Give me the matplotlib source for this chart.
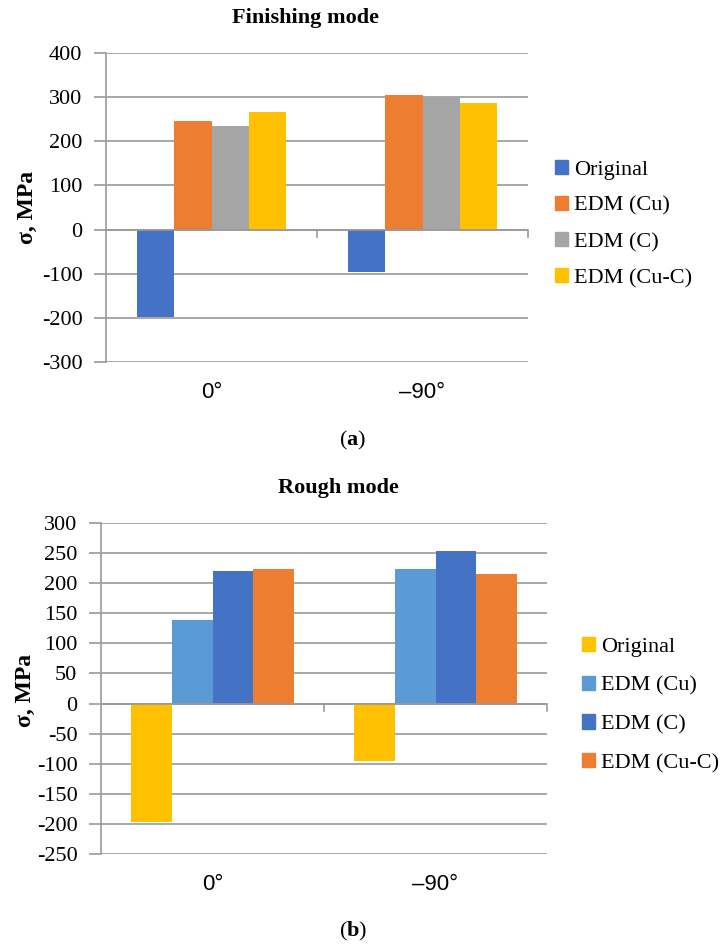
import matplotlib
matplotlib.use("Agg")
from matplotlib import pyplot as plt
from matplotlib.patches import Patch
import numpy as np

plt.rcParams['font.family'] = ['Liberation Serif', 'DejaVu Serif']
plt.rcParams['mathtext.fontset'] = 'custom'
plt.rcParams['mathtext.rm'] = 'Liberation Serif'
plt.rcParams['mathtext.bf'] = 'Liberation Serif:bold'

categories = ['0°', '–90°']

# finishing mode (a)
fin_labels = ['Original', 'EDM (Cu)', 'EDM (C)', 'EDM (Cu-C)']
fin_values = [
    [-197, -97],   # Original
    [245, 305],    # EDM (Cu)
    [235, 300],    # EDM (C)
    [267, 287],    # EDM (Cu-C)
]
fin_colors = ['#4472C4', '#ED7D31', '#A5A5A5', '#FFC000']
fin_ticks = [-300, -200, -100, 0, 100, 200, 300, 400]

# rough mode (b)
rough_labels = ['Original', 'EDM (Cu)', 'EDM (C)', 'EDM (Cu-C)']
rough_values = [
    [-197, -95],   # Original
    [138, 223],    # EDM (Cu)
    [220, 254],    # EDM (C)
    [223, 216],    # EDM (Cu-C)
]
rough_colors = ['#FFC000', '#5B9BD5', '#4472C4', '#ED7D31']
rough_ticks = [-250, -200, -150, -100, -50, 0, 50, 100, 150, 200, 250, 300]

W, H = 724, 946
fig = plt.figure(figsize=(W / 100, H / 100), dpi=100)
GRID = '#9a9a9a'


def px_axes(x0, y0, x1, y1):
    return fig.add_axes([x0 / W, 1 - y1 / H, (x1 - x0) / W, (y1 - y0) / H])


def draw_panel(ax, labels, values, colors, ticks, gap, leg_x, leg_y, leg_gap):
    n = len(labels)
    bw = 1 / (n + gap)
    x = np.arange(len(categories)) + 0.5
    for i in range(n):
        off = (i - (n - 1) / 2) * bw
        ax.bar(x + off, values[i], width=bw, color=colors[i], zorder=3)
    ax.set_xlim(0, len(categories))
    ax.set_ylim(ticks[0], ticks[-1])
    ax.set_yticks(ticks)
    ax.set_yticklabels([str(t) for t in ticks], fontsize=16)
    ax.yaxis.grid(True, color=GRID, lw=1.2, zorder=0)
    for s in ['top', 'right', 'bottom']:
        ax.spines[s].set_visible(False)
    ax.spines['left'].set_color(GRID)
    ax.spines['left'].set_linewidth(1.2)
    ax.tick_params(axis='y', length=9, width=1.2, color=GRID, pad=8)
    ax.set_xticks([])
    # zero line with category separators
    ax.axhline(0, color=GRID, lw=1.2, zorder=4)
    rng = ticks[-1] - ticks[0]
    for k in range(1, len(categories) + 1):
        ax.plot([k, k], [0, -rng * 0.024], color=GRID, lw=1.2, zorder=4,
                clip_on=False)
    for xi, c in zip(x, categories):
        ax.annotate(c, (xi, 0), xycoords=('data', 'axes fraction'),
                    xytext=(0, -30), textcoords='offset pixels',
                    ha='center', va='center', fontsize=16,
                    family=['Liberation Sans', 'DejaVu Sans'])
    handles = [Patch(color=c) for c in colors]
    fig.legend(handles, labels, loc='center left',
               bbox_to_anchor=(leg_x / W, 1 - leg_y / H), frameon=False,
               fontsize=16, handlelength=0.6, handleheight=0.6,
               handletextpad=0.25, labelspacing=leg_gap, borderaxespad=0,
               borderpad=0)


ax1 = px_axes(106, 53, 528, 362)
draw_panel(ax1, fin_labels, fin_values, fin_colors, fin_ticks, 1.63,
           555, 224, 0.73)
fig.text(305 / W, 1 - 18 / H, 'Finishing mode', ha='center', va='center',
         fontsize=16, fontweight='bold')
fig.text(27 / W, 1 - 207 / H, 'σ, MPa', rotation=90, ha='center',
         va='center', fontsize=17, fontweight='bold')
fig.text(353 / W, 1 - 440 / H, r'($\mathbf{a}$)', ha='center', va='center',
         fontsize=16)

ax2 = px_axes(101, 523, 547, 854)
draw_panel(ax2, rough_labels, rough_values, rough_colors, rough_ticks, 1.5,
           582, 705, 0.85)
fig.text(338 / W, 1 - 488 / H, 'Rough mode', ha='center', va='center',
         fontsize=16, fontweight='bold')
fig.text(25 / W, 1 - 690 / H, 'σ, MPa', rotation=90, ha='center',
         va='center', fontsize=17, fontweight='bold')
fig.text(353 / W, 1 - 931 / H, r'($\mathbf{b}$)', ha='center', va='center',
         fontsize=16)

fig.savefig('out.png', dpi=100)
